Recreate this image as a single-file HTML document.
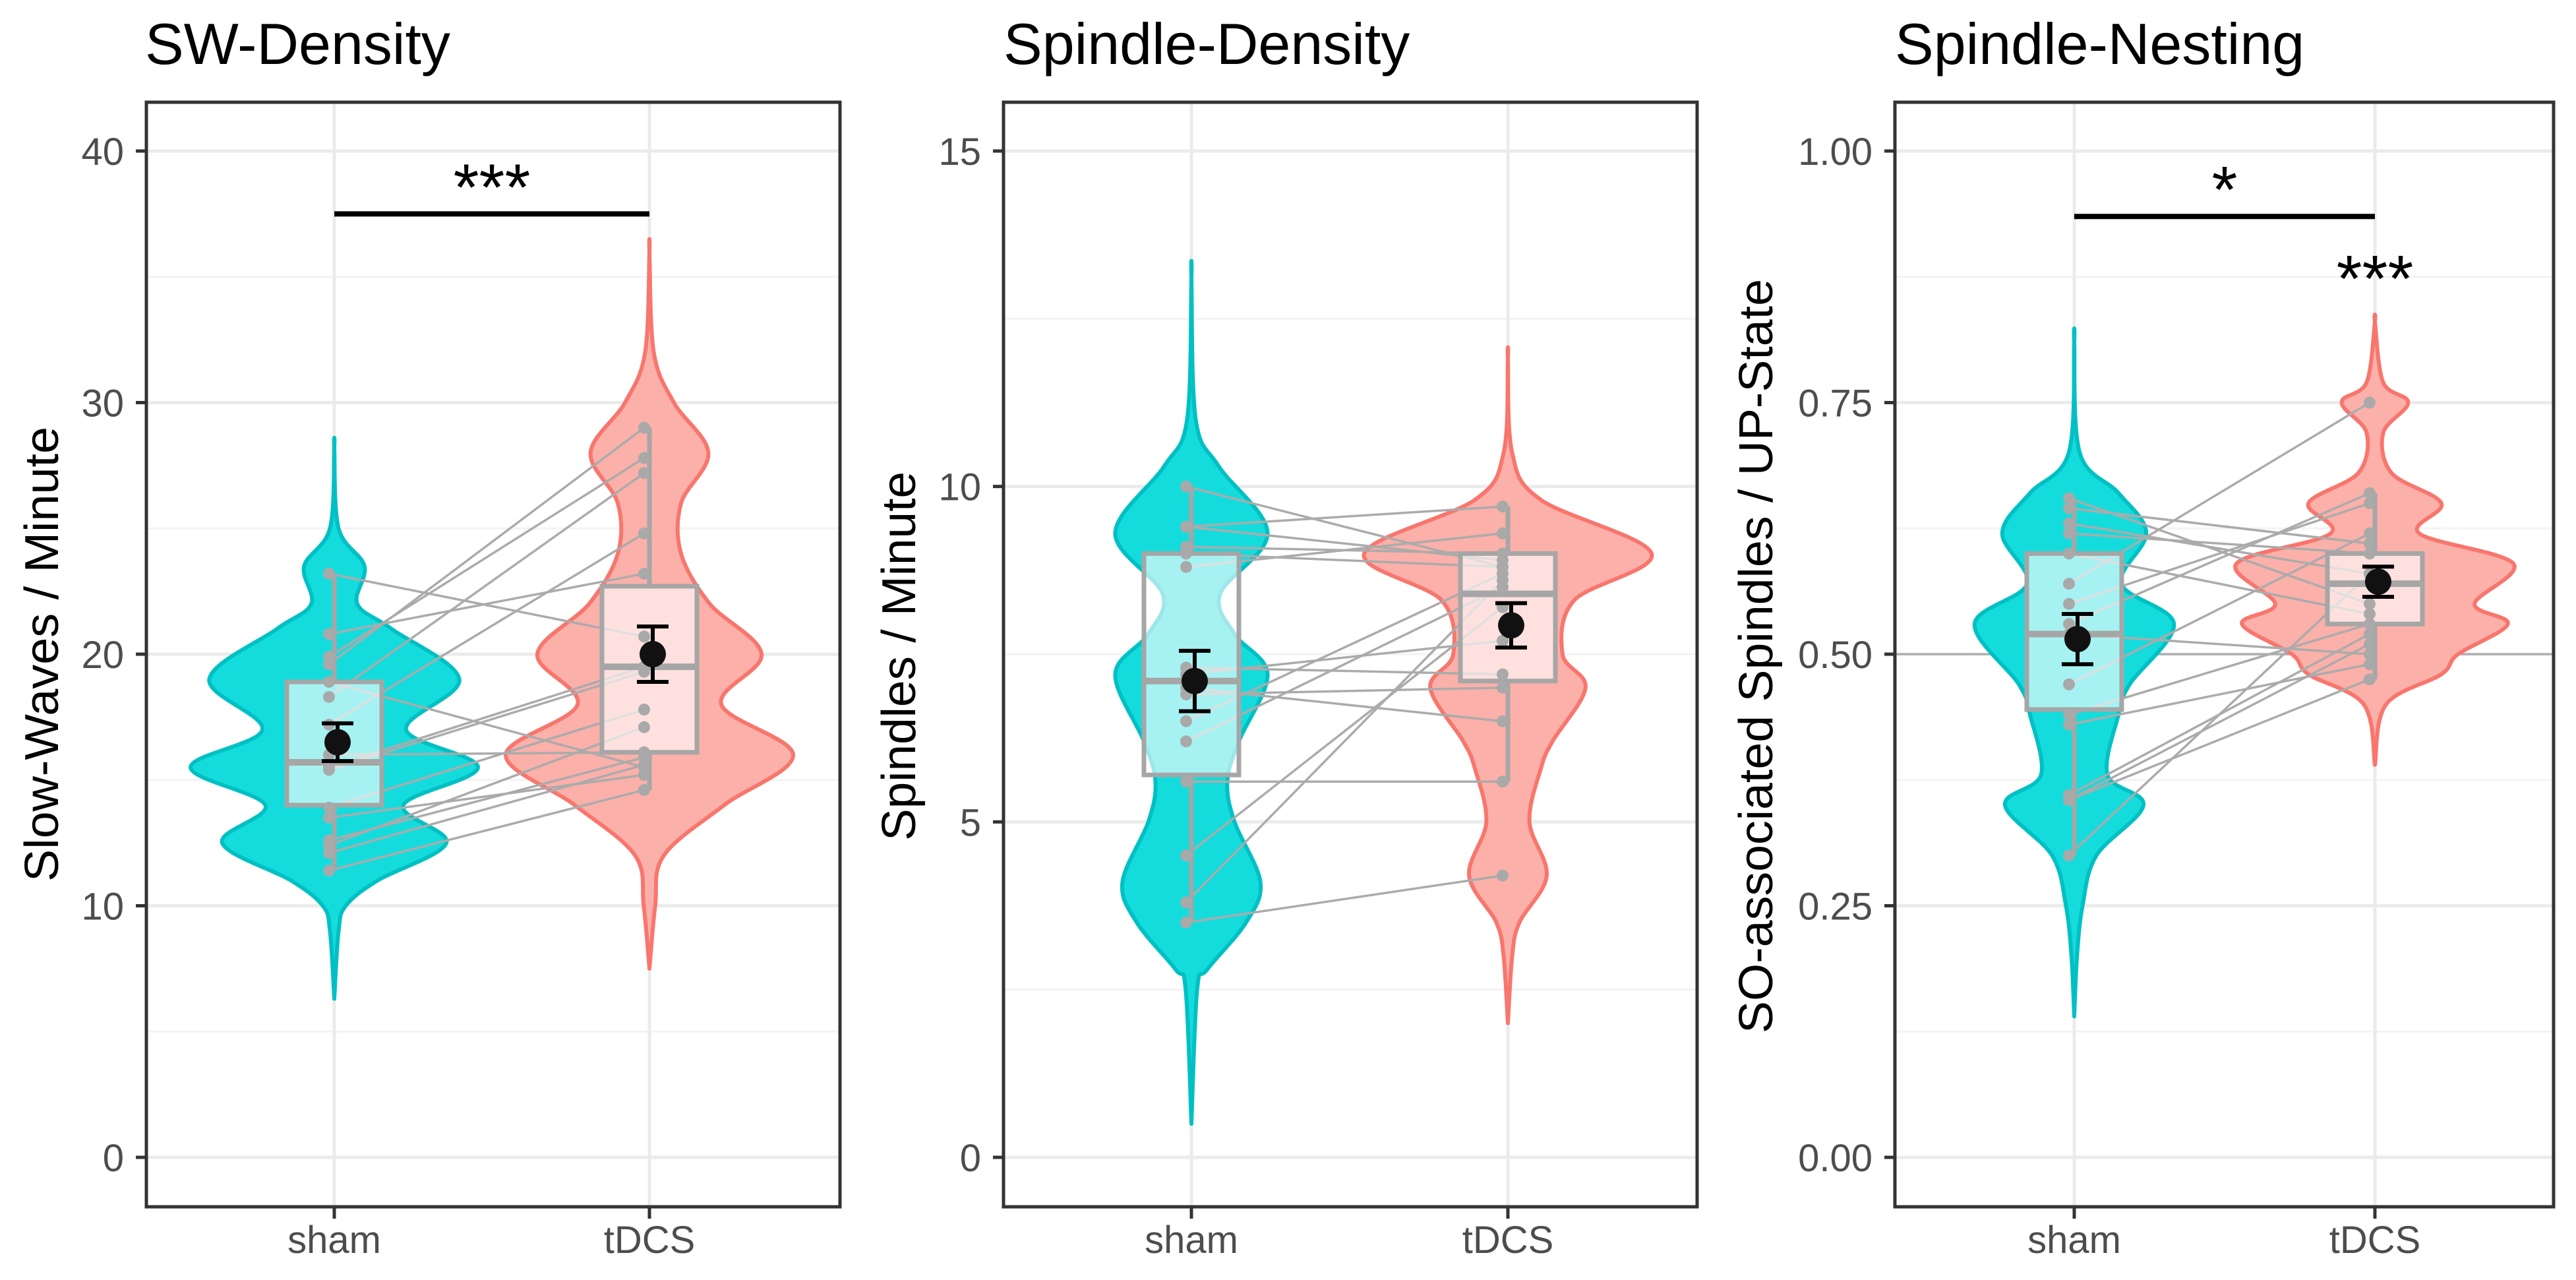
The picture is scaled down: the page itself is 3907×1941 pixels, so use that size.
<!DOCTYPE html>
<html><head><meta charset="utf-8">
<style>
html,body{margin:0;padding:0;background:#fff;}
svg{display:block;font-family:"Liberation Sans",Arial,sans-serif;}
</style></head>
<body>
<svg id="chart" width="3907" height="1941" viewBox="0 0 3907 1941" xmlns="http://www.w3.org/2000/svg"></svg>
<script>
// ---------- Panel 1: SW-Density ----------
const p1Ticks = [0, 10, 20, 30, 40];
const p1ShamPts = [23.2,20.8,19.9,19.6,18.3,17.2,15.5,15.4,13.9,13.5,12.6,12.4,12.1,11.4,16.0,18.9];
const p1TdcsPts = [20.7,23.2,27.8,29.0,27.2,24.8,19.5,19.3,17.8,15.2,15.9,17.1,15.6,14.6,16.1,15.5];
const p1ShamVY = [6.3,9,10,11,12.5,14,15.5,17,19,21,22,23.5,25,28.2];
const p1ShamVW = [0,0.03,0.08,0.3,0.78,0.48,1.0,0.5,0.87,0.4,0.16,0.21,0.03,0];
const p1TdcsVY = [7.5,10,12,14,16,18,20,22,24,26,28,30,32,36];
const p1TdcsVW = [0,0.04,0.1,0.52,1.0,0.5,0.78,0.42,0.22,0.22,0.41,0.17,0.03,0];
const p1ShamBox = [11.4,14.0,15.7,18.9,23.2];
const p1TdcsBox = [14.6,16.1,19.5,22.7,29.0];
const p1Means = [16.5,20.0];
const p1Err = [0.75,1.1];

// ---------- Panel 2: Spindle-Density ----------
const p2Ticks = [0, 5, 10, 15];
const p2ShamPts = [10.0,9.4,9.4,9.1,8.8,7.3,6.9,6.5,6.2,5.6,4.5,3.8,3.5,7.2,7.0,9.0];
const p2TdcsPts = [8.8,9.7,8.9,9.0,9.3,7.2,7.0,8.7,8.5,5.6,8.2,8.6,4.2,7.7,6.5,8.8];
const p2ShamVY = [0.5,2.5,2.8,3.5,4.1,5.0,5.6,6.2,7.2,7.8,8.4,9.3,10.3,11,13.1];
const p2ShamVW = [0,0.04,0.11,0.38,0.48,0.3,0.25,0.33,0.53,0.3,0.2,0.53,0.19,0.03,0];
const p2TdcsVY = [2.0,3.0,3.5,4.2,5.0,5.8,6.2,7.0,7.5,8.3,9.0,9.8,10.5,11.9];
const p2TdcsVW = [0,0.03,0.08,0.27,0.15,0.23,0.31,0.54,0.38,0.46,1.0,0.23,0.03,0];
const p2ShamBox = [3.5,5.7,7.1,9.0,10.0];
const p2TdcsBox = [5.6,7.1,8.4,9.0,9.7];
const p2Means = [7.1,7.93];
const p2Err = [0.45,0.33];

// ---------- Panel 3: Spindle-Nesting ----------
const p3Ticks = [0, 0.25, 0.5, 0.75, 1.0];
const p3TickLabels = ["0.00","0.25","0.50","0.75","1.00"];
const p3ShamPts = [0.655,0.645,0.63,0.62,0.57,0.55,0.53,0.47,0.44,0.43,0.36,0.355,0.355,0.30,0.60,0.52];
const p3TdcsPts = [0.55,0.61,0.58,0.60,0.75,0.65,0.66,0.62,0.53,0.49,0.52,0.475,0.51,0.58,0.54,0.50];
const p3ShamVY = [0.14,0.2,0.25,0.3,0.35,0.38,0.44,0.47,0.53,0.57,0.62,0.66,0.7,0.81];
const p3ShamVW = [0,0.02,0.06,0.16,0.5,0.24,0.32,0.4,0.72,0.34,0.52,0.32,0.04,0];
const p3TdcsVY = [0.39,0.45,0.48,0.5,0.53,0.55,0.59,0.62,0.65,0.68,0.72,0.75,0.77,0.83];
const p3TdcsVW = [0,0.08,0.48,0.6,0.96,0.72,1.0,0.32,0.48,0.12,0.06,0.24,0.06,0];
const p3ShamBox = [0.30,0.445,0.52,0.60,0.655];
const p3TdcsBox = [0.475,0.53,0.57,0.60,0.66];
const p3Means = [0.515,0.572];
const p3Err = [0.025,0.015];

const categories = ["sham","tDCS"];
const NS = "http://www.w3.org/2000/svg";
const svg = document.getElementById('chart');
function mk(tag, attrs, parent, text){
  const e = document.createElementNS(NS, tag);
  for (const k in attrs) e.setAttribute(k, attrs[k]);
  if (text !== undefined) e.textContent = text;
  (parent||svg).appendChild(e);
  return e;
}

function panel(cfg){
  const g = mk('g', {});
  
  
  const L=cfg.left, R=cfg.right, T=155, B=1830;
  const yTop=229, yBot=1755;
  const y = v => yBot - v / cfg.max * (yBot - yTop);
  const xs = [cfg.xSham, cfg.xTdcs];
  mk('rect',{x:L,y:T,width:R-L,height:B-T,fill:'#fff'},g);
  for (let i=0;i<cfg.ticks.length-1;i++){
    const v=(cfg.ticks[i]+cfg.ticks[i+1])/2;
    const l=mk('line',{x1:L,x2:R,y1:y(v),y2:y(v),stroke:'#f3f3f3','stroke-width':3},g);
    
    
  }
  cfg.ticks.forEach((v,i)=>{
    const l=mk('line',{x1:L,x2:R,y1:y(v),y2:y(v),stroke:'#ebebeb','stroke-width':5},g);
    
    
    mk('line',{x1:L-16,x2:L,y1:y(v),y2:y(v),stroke:'#333','stroke-width':5},g);
    const t=mk('text',{x:L-34,y:y(v)+21,'text-anchor':'end','font-size':58,fill:'#4d4d4d'},g,cfg.tickLabels?cfg.tickLabels[i]:String(v));
    
    
  });
  xs.forEach(x=>{
    mk('line',{x1:x,x2:x,y1:T,y2:B,stroke:'#ebebeb','stroke-width':5},g);
  });
  if (cfg.refLine!==undefined){
    const l=mk('line',{x1:L,x2:R,y1:y(cfg.refLine),y2:y(cfg.refLine),stroke:'#aaa','stroke-width':3},g);
    
    
  }
  const vdefs=[[cfg.shamVY,cfg.shamVW,'#15dcdc','#00c0c4','sham-violin'],[cfg.tdcsVY,cfg.tdcsVW,'#fbb0aa','#f8766d','tdcs-violin']];
  vdefs.forEach((d,k)=>{
    const [vy,vw,fill,stroke,nm]=d;
    const pts=[];
    for(let i=0;i<vy.length;i++) pts.push([xs[k]+vw[i]*cfg.vmax, y(vy[i])]);
    for(let i=vy.length-1;i>=0;i--) pts.push([xs[k]-vw[i]*cfg.vmax, y(vy[i])]);
    let dstr='M'+pts[0][0]+','+pts[0][1];
    for(let i=0;i<pts.length-1;i++){
      const p0=pts[Math.max(i-1,0)],p1=pts[i],p2=pts[i+1],p3=pts[Math.min(i+2,pts.length-1)];
      const c1=[p1[0]+(p2[0]-p0[0])/6,p1[1]+(p2[1]-p0[1])/6];
      const c2=[p2[0]-(p3[0]-p1[0])/6,p2[1]-(p3[1]-p1[1])/6];
      dstr+=' C'+c1[0]+','+c1[1]+' '+c2[0]+','+c2[1]+' '+p2[0]+','+p2[1];
    }
    dstr+='Z';
    const p=mk('path',{d:dstr,fill:fill,stroke:stroke,'stroke-width':6,'stroke-linejoin':'round'},g);
    
    
  });
  for(let i=0;i<cfg.shamPts.length;i++){
    const l=mk('line',{x1:xs[0]-8,y1:y(cfg.shamPts[i]),x2:xs[1]-8,y2:y(cfg.tdcsPts[i]),stroke:'#ababab','stroke-width':3.5},g);
    
    
  }
  [cfg.shamBox,cfg.tdcsBox].forEach((b,k)=>{
    const x=xs[k], hw=72;
    const bg=mk('g',{},g);
    
    
    mk('line',{x1:x,x2:x,y1:y(b[0]),y2:y(b[1]),stroke:'#a6a6a6','stroke-width':7},bg);
    mk('line',{x1:x,x2:x,y1:y(b[3]),y2:y(b[4]),stroke:'#a6a6a6','stroke-width':7},bg);
    mk('rect',{x:x-hw,y:y(b[3]),width:2*hw,height:y(b[1])-y(b[3]),fill:'rgba(255,255,255,0.62)',stroke:'#a6a6a6','stroke-width':7},bg);
    mk('line',{x1:x-hw,x2:x+hw,y1:y(b[2]),y2:y(b[2]),stroke:'#a6a6a6','stroke-width':10},bg);
  });
  [cfg.shamPts,cfg.tdcsPts].forEach((arr,k)=>{
    arr.forEach(v=>{
      const c=mk('circle',{cx:xs[k]-8,cy:y(v),r:9,fill:'#a9a9a9'},g);
      
      
    });
  });
  cfg.means.forEach((m,k)=>{
    const x=xs[k]+5, e=cfg.err[k];
    const eg=mk('g',{},g);
    
    
    mk('line',{x1:x,x2:x,y1:y(m+e),y2:y(m-e),stroke:'#000','stroke-width':6},eg);
    mk('line',{x1:x-24,x2:x+24,y1:y(m+e),y2:y(m+e),stroke:'#000','stroke-width':6},eg);
    mk('line',{x1:x-24,x2:x+24,y1:y(m-e),y2:y(m-e),stroke:'#000','stroke-width':6},eg);
    mk('circle',{cx:x,cy:y(m),r:20,fill:'#111'},eg);
  });
  if (cfg.sigBar!==undefined){
    const l=mk('line',{x1:xs[0],x2:xs[1],y1:y(cfg.sigBar),y2:y(cfg.sigBar),stroke:'#000','stroke-width':8},g);
    
    
    const t=mk('text',{x:(xs[0]+xs[1])/2,y:y(cfg.sigBar)-6,'text-anchor':'middle','font-size':100,fill:'#000'},g,cfg.sigText);
    
    
  }
  if (cfg.sig2!==undefined){
    const t=mk('text',{x:xs[1],y:y(cfg.sig2)+45,'text-anchor':'middle','font-size':100,fill:'#000'},g,'***');
    
    
  }
  mk('rect',{x:L,y:T,width:R-L,height:B-T,fill:'none',stroke:'#333','stroke-width':5},g);
  xs.forEach((x,k)=>{
    mk('line',{x1:x,x2:x,y1:B,y2:B+18,stroke:'#333','stroke-width':5},g);
    const t=mk('text',{x:x,y:1900,'text-anchor':'middle','font-size':58,fill:'#4d4d4d'},g,categories[k]);
    
    
  });
  const tt=mk('text',{x:cfg.titleX,y:97,'font-size':88,fill:'#000'},g,cfg.title);
  
  
  const yt=mk('text',{x:0,y:0,'text-anchor':'middle','font-size':72,fill:'#000',transform:`translate(${cfg.yTitleX},${cfg.yTitleY}) rotate(-90)`,textLength:cfg.yTitleLen,lengthAdjust:'spacingAndGlyphs'},g,cfg.yTitle);
  
  
}

panel({name:'sw-density',left:222,right:1274,xSham:507,xTdcs:985,max:40,ticks:p1Ticks,
  shamPts:p1ShamPts,tdcsPts:p1TdcsPts,shamVY:p1ShamVY,shamVW:p1ShamVW,tdcsVY:p1TdcsVY,tdcsVW:p1TdcsVW,vmax:218,
  shamBox:p1ShamBox,tdcsBox:p1TdcsBox,means:p1Means,err:p1Err,sigBar:37.5,sigText:'***',
  title:'SW-Density',titleX:220,yTitle:'Slow-Waves / Minute',yTitleX:88,yTitleY:992,yTitleLen:690});
panel({name:'spindle-density',left:1522,right:2574,xSham:1807,xTdcs:2287,max:15,ticks:p2Ticks,
  shamPts:p2ShamPts,tdcsPts:p2TdcsPts,shamVY:p2ShamVY,shamVW:p2ShamVW,tdcsVY:p2TdcsVY,tdcsVW:p2TdcsVW,vmax:218,
  shamBox:p2ShamBox,tdcsBox:p2TdcsBox,means:p2Means,err:p2Err,
  title:'Spindle-Density',titleX:1522,yTitle:'Spindles / Minute',yTitleX:1388,yTitleY:995,yTitleLen:560});
panel({name:'spindle-nesting',left:2874,right:3873,xSham:3146,xTdcs:3602,max:1.0,ticks:p3Ticks,tickLabels:p3TickLabels,
  shamPts:p3ShamPts,tdcsPts:p3TdcsPts,shamVY:p3ShamVY,shamVW:p3ShamVW,tdcsVY:p3TdcsVY,tdcsVW:p3TdcsVW,vmax:210,
  shamBox:p3ShamBox,tdcsBox:p3TdcsBox,means:p3Means,err:p3Err,sigBar:0.935,sigText:'*',sig2:0.88,refLine:0.5,
  title:'Spindle-Nesting',titleX:2874,yTitle:'SO-associated Spindles / UP-State',yTitleX:2688,yTitleY:995,yTitleLen:1144});
</script>
</body></html>
